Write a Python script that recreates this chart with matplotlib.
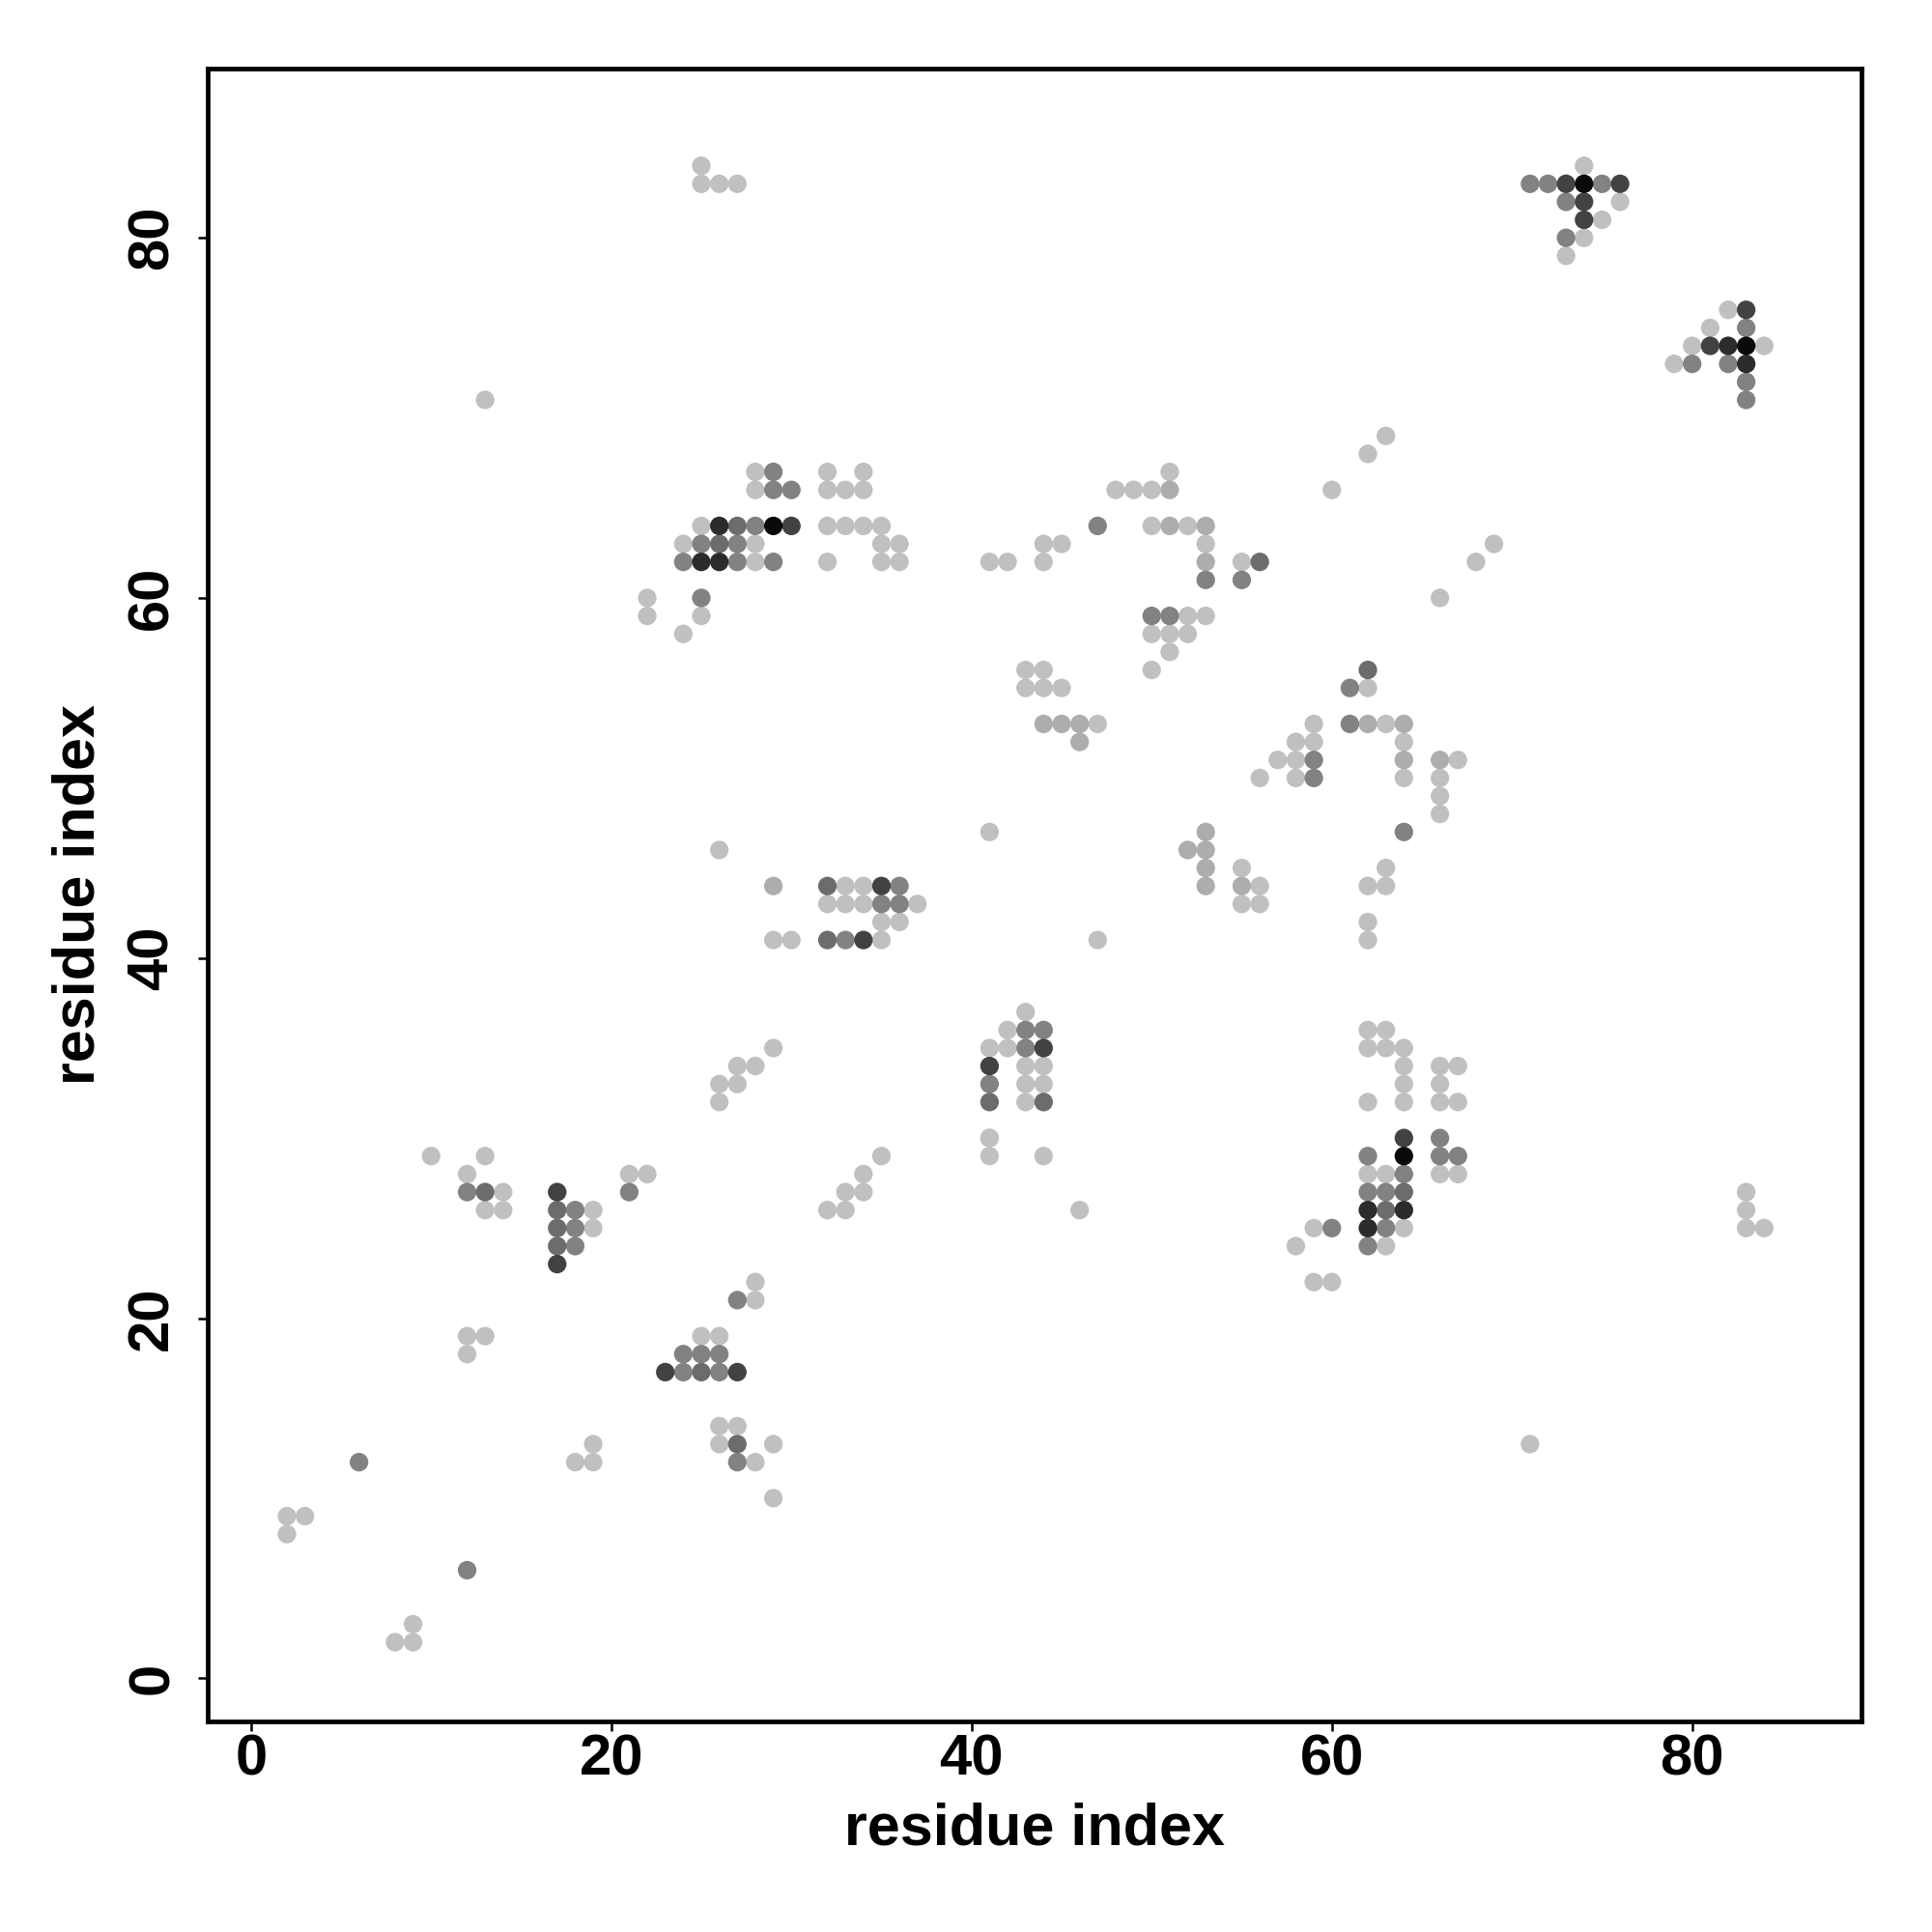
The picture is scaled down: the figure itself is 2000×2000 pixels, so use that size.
import matplotlib
matplotlib.use("Agg")
import matplotlib.pyplot as plt
import numpy as np

# ---------------- data (contact map: residue i, residue j, contact level 1..7) ----------------
res_x = [
    2, 3, 2, 6, 12, 8, 9, 9,
    10, 13, 12, 12, 13, 14, 13, 14,
    17, 17, 17, 17, 17, 18, 18, 18, 19, 19,
    21, 22, 21, 28, 27, 28, 12, 13, 12,
    25, 26, 24, 25, 26, 23, 24, 25, 26, 27,
    26, 27, 26, 27, 29, 27, 28, 29, 19, 18, 19,
    41, 41, 44, 35, 34, 33, 34, 32, 33, 46, 59, 60, 58, 59, 60,
    64, 66, 62, 64, 66, 67, 62, 63, 64, 66, 67, 62, 63, 64,
    62, 63, 64, 62, 63, 64, 62, 63, 71, 83, 83, 83, 84,
    22, 25, 22, 25, 24, 26, 29, 29, 30, 29, 27, 28, 26, 27, 26,
    50, 51, 52, 53, 50, 51, 52, 51, 50,
    43, 44, 43, 44, 45, 44, 45, 46, 47, 46,
    59, 58, 59, 57, 58, 59, 56, 58, 59, 41,
    53, 52, 53, 53, 53, 55, 55, 56, 55, 56,
    32, 33, 34, 35, 36, 32, 33, 34, 35, 36, 37, 35, 36,
    32, 33, 34, 35, 47, 43, 42, 43, 44, 41, 42, 43, 44,
    41, 43, 44, 41, 43, 44, 41, 43, 44, 41,
    66, 62, 61, 62, 61, 62, 63, 64, 64, 64, 64, 66, 67, 66, 66, 66, 64,
    63, 62, 63, 62, 62, 62, 63, 62, 63, 64, 64, 66, 67, 64, 66, 62, 64, 66, 67,
    25, 25, 26, 27, 13, 28, 29, 28, 29, 30,
    25, 26, 27, 28, 29, 30, 24, 25, 26, 27, 28, 24, 25, 26, 27, 28, 29,
    32, 34, 32, 33, 34, 32, 33, 34, 35, 35, 36, 32, 35, 36, 41, 42, 44, 44, 45,
    47, 48, 49, 50, 51, 51, 60, 50, 51, 52, 53, 53, 53, 55, 56, 53, 55,
    74, 71, 72, 73, 74, 75, 76, 73, 74, 76, 74, 75, 73, 74, 73,
    82, 83, 81, 83, 80, 81, 82, 83, 84, 79, 80, 82, 83, 83, 83,
    63, 62, 69, 68,
]
res_y = [
    9, 9, 8, 12, 6, 2, 2, 3,
    29, 29, 28, 27, 27, 27, 26, 26,
    27, 26, 25, 24, 23, 26, 25, 24, 26, 25,
    28, 28, 27, 22, 21, 21, 19, 19, 18,
    19, 19, 18, 18, 18, 17, 17, 17, 17, 17,
    14, 14, 13, 13, 13, 12, 12, 10, 13, 12, 12,
    30, 29, 29, 29, 28, 27, 27, 26, 26, 26, 25, 25, 24, 22, 22,
    30, 30, 29, 29, 29, 29, 28, 28, 28, 28, 28, 27, 27, 27,
    26, 26, 26, 25, 25, 25, 24, 24, 13, 27, 26, 25, 25,
    60, 60, 59, 59, 58, 46, 44, 41, 41, 35, 34, 34, 33, 33, 32,
    59, 59, 59, 59, 58, 58, 58, 57, 56,
    56, 56, 55, 55, 55, 53, 53, 53, 53, 52,
    53, 52, 52, 51, 51, 51, 50, 50, 50, 47,
    47, 46, 46, 45, 44, 45, 44, 44, 43, 43,
    44, 44, 44, 44, 44, 43, 43, 43, 43, 43, 43, 42, 42,
    41, 41, 41, 41, 41, 37, 36, 36, 36, 35, 35, 35, 35,
    34, 34, 34, 33, 33, 33, 32, 32, 32, 30,
    60, 56, 55, 55, 53, 53, 53, 53, 52, 51, 50, 51, 51, 50, 49, 48, 47,
    45, 44, 44, 42, 41, 36, 36, 35, 35, 35, 34, 34, 34, 33, 33, 32, 32, 32, 32,
    84, 83, 83, 83, 71, 67, 67, 66, 66, 66,
    64, 64, 64, 64, 64, 64, 63, 63, 63, 63, 63, 62, 62, 62, 62, 62, 62,
    67, 67, 66, 66, 66, 64, 64, 64, 64, 63, 63, 62, 62, 62, 62, 62, 62, 63, 63,
    64, 66, 66, 66, 66, 67, 66, 64, 64, 64, 64, 63, 62, 62, 62, 61, 61,
    84, 83, 83, 83, 83, 83, 83, 82, 82, 82, 81, 81, 80, 80, 79,
    76, 76, 75, 75, 74, 74, 74, 74, 74, 73, 73, 73, 73, 72, 71,
    69, 68, 63, 62,
]
contact_level = [
    1, 1, 1, 3, 3, 1, 1, 1,
    1, 1, 1, 3, 4, 1, 1, 1,
    5, 4, 4, 4, 5, 3, 3, 3, 1, 1,
    1, 1, 3, 1, 3, 1, 1, 1, 1,
    1, 1, 3, 3, 3, 5, 3, 4, 3, 5,
    1, 1, 1, 4, 1, 3, 1, 1, 1, 1, 1,
    1, 1, 1, 1, 1, 1, 1, 1, 1, 1, 1, 3, 1, 1, 1,
    5, 3, 3, 7, 3, 3, 1, 1, 3, 1, 1, 3, 3, 4,
    6, 4, 6, 6, 3, 1, 3, 1, 1, 1, 1, 1, 1,
    1, 3, 1, 1, 1, 1, 2, 1, 1, 1, 1, 1, 1, 1, 1,
    3, 3, 1, 1, 1, 1, 1, 1, 1,
    1, 1, 1, 1, 1, 2, 2, 2, 1, 2,
    1, 1, 1, 1, 1, 3, 1, 1, 3, 1,
    2, 2, 2, 2, 2, 1, 2, 1, 1, 1,
    4, 1, 1, 5, 3, 1, 1, 1, 3, 3, 1, 1, 1,
    4, 3, 5, 1, 1, 1, 1, 3, 3, 1, 1, 3, 5,
    5, 1, 1, 3, 1, 1, 4, 1, 4, 1,
    1, 4, 3, 1, 3, 2, 1, 2, 1, 2, 1, 2, 1, 1, 1, 1, 3,
    1, 1, 1, 1, 1, 1, 1, 1, 1, 1, 1, 1, 1, 1, 1, 1, 1, 1, 1,
    1, 1, 1, 1, 1, 1, 3, 1, 3, 3,
    1, 6, 4, 3, 7, 5, 1, 3, 4, 3, 1, 3, 6, 6, 3, 1, 3,
    1, 1, 1, 1, 1, 1, 1, 1, 1, 1, 1, 1, 1, 1, 1, 1, 1, 1, 1,
    3, 1, 1, 1, 2, 1, 1, 1, 2, 1, 2, 1, 2, 1, 4, 3, 3,
    1, 3, 3, 5, 7, 3, 5, 3, 5, 1, 5, 1, 3, 1, 1,
    1, 5, 1, 3, 1, 5, 6, 7, 1, 1, 3, 3, 6, 3, 3,
    1, 1, 1, 1,
]

x_ticks = [0, 20, 40, 60, 80]
y_ticks = [0, 20, 40, 60, 80]
x_label = "residue index"
y_label = "residue index"

# ---------------- style ----------------
level_colors = {1: "#c0c0c0", 2: "#adadad", 3: "#828282", 4: "#6c6c6c",
                5: "#424242", 6: "#2c2c2c", 7: "#0a0a0a"}
FONT = "Liberation Sans"

W, H = 2000, 2000
fig = plt.figure(figsize=(W / 100, H / 100), dpi=100)
left, right, top, bottom = 215, 1927, 71, 1782
ax = fig.add_axes([left / W, 1 - bottom / H, (right - left) / W, (bottom - top) / H])

xs = np.array(res_x)
ys = np.array(res_y)
lv = np.array(contact_level)
order = np.argsort(lv, kind="stable")
ax.scatter(xs[order], ys[order], s=192, c=[level_colors[v] for v in lv[order]],
           edgecolors="none", zorder=2)

ax.set_xlim(-2.4, 89.4)
ax.set_ylim(-2.4, 89.4)

for sp in ax.spines.values():
    sp.set_linewidth(3.4)
    sp.set_color("black")

ax.set_xticks(x_ticks)
ax.set_yticks(y_ticks)
ax.set_xticklabels([str(t) for t in x_ticks], fontfamily=FONT, fontweight="bold", fontsize=43)
ax.set_yticklabels([str(t) for t in y_ticks], fontfamily=FONT, fontweight="bold", fontsize=43,
                   rotation=90, va="center")
ax.tick_params(axis="both", direction="out", length=7, width=1.8, color="black")
ax.tick_params(axis="x", pad=2)
ax.tick_params(axis="y", pad=14)

ax.set_xlabel(x_label, fontfamily=FONT, fontweight="bold", fontsize=44, va="baseline")
ax.xaxis.set_label_coords(((left + right) / 2) / W, 1 - 1909 / H, transform=fig.transFigure)
ax.set_ylabel(y_label, fontfamily=FONT, fontweight="bold", fontsize=44, va="baseline",
              rotation=90, rotation_mode="anchor", ha="center")
ax.yaxis.set_label_coords(98 / W, 1 - ((top + bottom) / 2) / H, transform=fig.transFigure)

fig.savefig("out.png", dpi=100, facecolor="white")
